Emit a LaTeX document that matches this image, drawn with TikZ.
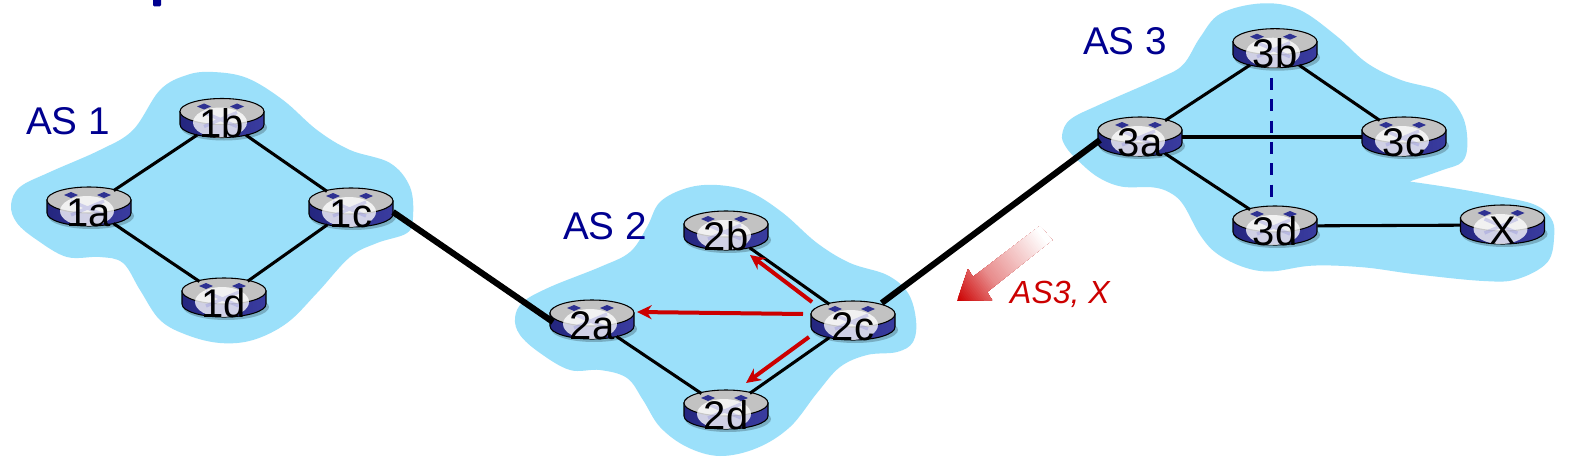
\documentclass[tikz,border=0pt]{standalone}
\usepackage{fontspec}
\setmainfont{Liberation Sans}
\usetikzlibrary{shapes.geometric,arrows.meta,calc}
\definecolor{asblue}{HTML}{9BE0FA}
\definecolor{asnavy}{HTML}{000090}
\definecolor{linkred}{HTML}{CC0000}
\definecolor{rtop}{HTML}{C2C2C2}
\definecolor{rdark}{HTML}{24267F}
\definecolor{rmid}{HTML}{8080D8}
\definecolor{rright}{HTML}{3A3CA0}
\definecolor{rmark}{HTML}{2E3192}
\tikzset{
  cloud/.style={fill=asblue,draw=none},
  aslabel/.style={font=\fontsize{29}{32}\selectfont,text=asnavy,inner sep=0pt},
  routerhit/.style={ellipse,minimum width=63pt,minimum height=30pt,inner sep=0pt,draw=none,fill=none},
  routertext/.style={font=\fontsize{30}{33}\selectfont,text=black,inner sep=0pt,anchor=base},
  link/.style={draw=black,line width=2.3pt},
  trunk/.style={draw=black,line width=4.6pt},
  ibgp/.style={draw=asnavy,line width=2.6pt,dash pattern=on 9pt off 7pt},
  redflow/.style={draw=linkred,line width=3pt,-{Stealth[length=11pt,width=10.5pt]}},
}
\newcommand{\routerat}[3]{%
  \begin{scope}[shift={#2}]
    \fill[black,opacity=.22] (2,9) ellipse [x radius=43,y radius=13];
    \path[left color=rdark,middle color=rmid,right color=rright,draw=black,line width=.8pt]
      (-42,-7) -- (-42,6) arc[start angle=180,end angle=0,x radius=42,y radius=13] -- (42,-7) -- cycle;
    \path[fill=rtop,draw=black,line width=.8pt] (0,-7) ellipse [x radius=42,y radius=13];
    \fill[white,opacity=.78] (-2,4) ellipse [x radius=27,y radius=15];
    \draw[rmid,opacity=.3,line width=2.5pt] (-18,-6) -- (15,8) (15,-6) -- (-18,8);
    \fill[rmark] (-25,-12) -- (-18,-15) -- (-11,-12) -- (-18,-9) -- cycle;
    \fill[rmark] (8,-12) -- (15,-15) -- (22,-12) -- (15,-9) -- cycle;
  \end{scope}
  \node[routerhit] (#1) at #2 {};
  \node[routertext] (#1t) at ($(#1)+(0,19)$) {#3};
}
\begin{document}
\begin{tikzpicture}[x=.75pt,y=-.75pt]
\useasboundingbox (0,0) rectangle (1574,467);
\fill[white] (0,0) rectangle (1574,467);
% cut-off title stroke
\fill[asnavy,rounded corners=1pt] (153,-3) rectangle (161,6.5);
% AS 1
\path[cloud] plot[smooth cycle,tension=.6] coordinates {
 (11,205) (20,187) (50,172) (100,150) (133,130) (160,90) (187,75) (213,72) (247,78) (283,100) (317,130) (350,150) (390,163) (410,187) (413,217) (407,233) (377,243) (350,257) (317,293) (287,323) (253,340) (220,343) (187,335) (160,320) (140,290) (123,263) (100,257) (67,257) (37,240) (17,223)};
% AS 2
\path[cloud] plot[smooth cycle,tension=.6] coordinates {
 (515,318) (523,302) (550,287) (600,267) (630,252) (647,227) (660,202) (687,188) (717,185) (750,192) (783,213) (817,243) (850,263) (887,275) (908,293) (916,320) (913,342) (897,352) (867,355) (840,367) (817,393) (790,427) (757,448) (720,456) (687,447) (660,427) (643,400) (627,378) (600,370) (570,370) (540,353) (520,335)};
% AS 3
\begin{scope}[shift={(1040,0)},scale=.34055]
\path[cloud] plot[smooth,tension=.6] coordinates {
 (1085,533) (1180,500) (1240,475) (1255,420) (1240,340) (1180,270) (1060,235) (960,185) (870,105) (760,28) (650,10) (530,40) (470,110) (420,190) (350,230) (180,305) (90,350) (65,395) (75,430) (110,470) (170,520) (240,548) (330,550) (380,565) (420,600) (470,690) (520,745) (600,785) (680,797) (800,780) (950,785) (1100,805) (1300,825) (1400,820) (1490,770) (1510,690) (1500,640) (1450,600) (1340,575) (1200,550) (1085,533)} -- cycle;
\end{scope}
% routers
\routerat{1a}{(89,207)}{1a}
\routerat{1b}{(222,118.5)}{1b}
\routerat{1c}{(351,208)}{1c}
\routerat{1d}{(224,298)}{1d}
\routerat{2a}{(592,320)}{2a}
\routerat{2b}{(726,231)}{2b}
\routerat{2c}{(853,321)}{2c}
\routerat{2d}{(726,410)}{2d}
\routerat{3a}{(1140,137)}{3a}
\routerat{3b}{(1275,48.7)}{3b}
\routerat{3c}{(1404,137)}{3c}
\routerat{3d}{(1275,226)}{3d}
\routerat{X}{(1502.5,225)}{X}
% labels
\node[aslabel] (as1) at (68,121) {AS 1};
\node[aslabel] (as2) at (605,226) {AS 2};
\node[aslabel] (as3) at (1125,41.5) {AS 3};
% links
\draw[link] (1a) -- (1b);
\draw[link] (1b) -- (1c);
\draw[link] (1a) -- (1d);
\draw[link] (1c) -- (1d);
\draw[link] (2a) -- (2d);
\draw[link] (2b) -- (2c);
\draw[link] (2c) -- (2d);
\draw[link] (3a) -- (3b);
\draw[link] (3b) -- (3c);
\draw[link] (3a) -- (3c);
\draw[link] (3a) -- (3d);
\draw[link] (3d) -- (X);
\draw[ibgp] ($(3b.south)+(-3.4,9)$) -- ($(3d.north)+(-3.4,-8.5)$);
\draw[trunk] ($(1c)+(42,4)$) -- ($(2a)+(-39,2)$);
\draw[trunk] ($(2c)+(28.7,-18)$) -- ($(3a)+(-40,3)$);
% red advertisements
\draw[redflow] ($(2c)+(-41,-19)$) -- ($(2b)+(24,24)$);
\draw[redflow] ($(2c)+(-50,-7)$) -- ($(2a)+(45,-8)$);
\draw[redflow] ($(2c)+(-44,16)$) -- ($(2d)+(20,-27)$);
% faded arrow, painted as overlapping bands along its axis
\begin{scope}
\clip (957,301) -- (968,269) -- (973,277) -- (1040,226) -- (1052,240) -- (987,292) -- (992,300) -- cycle;
\foreach \i in {0,...,53} {
  \pgfmathsetmacro\pct{\i<20 ? 100-55*\i/20 : 45-45*(\i-20)/33}
  \fill[linkred!\pct!white,shift={(957,301)},rotate=37] ({2*\i},-60) rectangle (125,60);
}
\end{scope}
\node[font=\fontsize{24}{28}\selectfont\itshape,text=linkred,inner sep=0pt] (adv) at (1060,294) {AS3, X};
\end{tikzpicture}
\end{document}
